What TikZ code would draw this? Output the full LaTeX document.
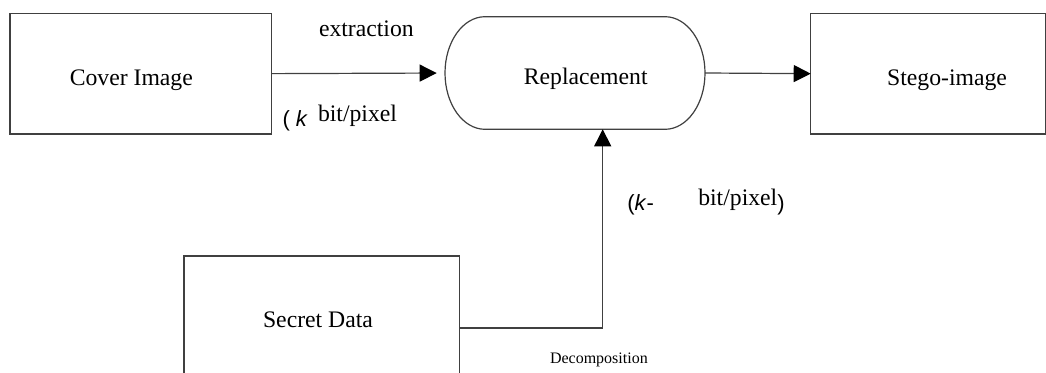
\documentclass[tikz,border=0pt]{standalone}
\usepackage{fontspec}
\setmainfont{Liberation Serif}
\newfontfamily\symsans{Liberation Sans}
\usetikzlibrary{arrows.meta,calc}
\definecolor{edge}{HTML}{404040}
\begin{document}
\begin{tikzpicture}[x=1pt,y=-1pt,
  every node/.style={inner sep=0pt,outer sep=0pt},
  txt/.style={font=\fontsize{23.7pt}{28pt}\selectfont},
  small/.style={font=\fontsize{16pt}{19pt}\selectfont},
  sym/.style={font=\fontsize{22pt}{26pt}\selectfont\symsans},
  stepbox/.style={draw=edge,line width=1.2pt},
  conn/.style={draw=edge,line width=1.2pt,-{Triangle[length=17pt,width=17pt,fill=black,color=black]}}]
% page frame
\clip (0,0) rectangle (1046,372);
\fill[white] (0,0) rectangle (1046,372);

% blocks
\node[stepbox,minimum width=261.5pt,minimum height=120.7pt] (cover) at (140.75,73.65) {};
\node[stepbox,minimum width=234.8pt,minimum height=120.7pt] (stego) at (928.1,73.65) {};
\node[stepbox,minimum width=275.3pt,minimum height=144pt] (secret) at (321.65,328) {};
\node[minimum width=260pt,minimum height=112.6pt] (repl) at (575,73) {};

% rounded process outline
\draw[edge,line width=1.2pt]
  ($(repl.north west)+(40,0)$) -- ($(repl.north east)+(-40,0)$)
  arc[start angle=90,end angle=-90,x radius=40pt,y radius=56.3pt]
  -- ($(repl.south west)+(40,0)$)
  arc[start angle=270,end angle=90,x radius=40pt,y radius=56.3pt] -- cycle;

% block titles
\node[txt,anchor=base] (covert) at (131.3,85) {Cover Image};
\node[txt,anchor=base] (stegot) at (947,85) {Stego-image};
\node[txt,anchor=base] (replt) at (585.7,84) {Replacement};
\node[txt,anchor=base] (secrett) at (318,327.3) {Secret Data};

% connectors
\draw[conn,shorten >=8.3pt] (cover.east) -- (repl.west);
\draw[conn] (repl.east) -- (stego.west);
\draw[conn] (secret.east) -| ([xshift=27.7pt]repl.south);

% connector labels
\node[txt,anchor=base west] (extr) at (319,36) {extraction};
\node[sym,anchor=base west] (k1) at (282.5,126) {( \textit{k}};
\node[txt,anchor=base west] (bp1) at (318,121.5) {bit/pixel};
\node[sym,anchor=base west] (k2) at (627.3,210) {(\textit{k}-};
\node[txt,anchor=base west] (bp2) at (698.3,205.5) {bit/pixel\raisebox{-4.5pt}{\fontsize{22pt}{26pt}\selectfont\symsans)}};
\node[small,anchor=base west] (decomp) at (550,363) {Decomposition};
\end{tikzpicture}
\end{document}
